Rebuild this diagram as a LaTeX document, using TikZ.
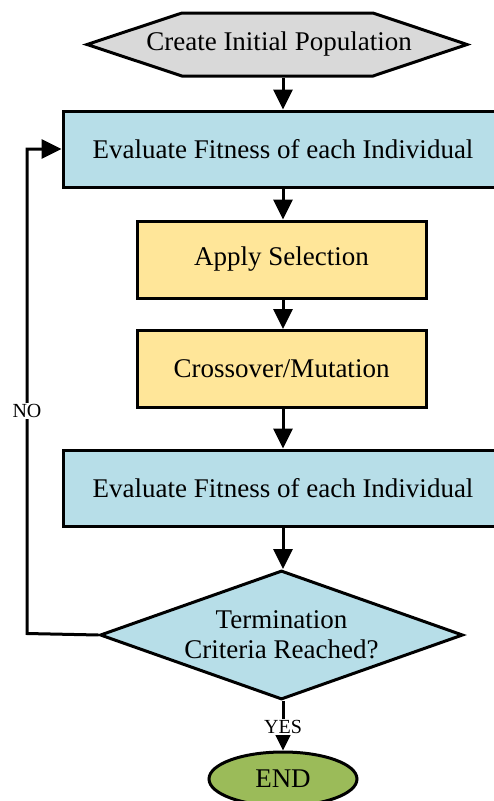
\documentclass[tikz,border=0pt]{standalone}
\usepackage{fontspec}
\setmainfont{Liberation Serif}
\usetikzlibrary{arrows.meta,shapes.geometric,calc}
\definecolor{hexgrey}{HTML}{D9D9D9}
\definecolor{boxblue}{HTML}{B7DEE8}
\definecolor{boxyellow}{HTML}{FFE699}
\definecolor{endgreen}{HTML}{9BBB59}
\begin{document}
\begin{tikzpicture}[x=1pt,y=-1pt, line width=3pt,
  box/.style={draw, rectangle, inner sep=0pt, align=center, font=\fontsize{27}{30}\selectfont},
  bluebox/.style={box, fill=boxblue, minimum width=440, minimum height=76},
  yellowbox/.style={box, fill=boxyellow, minimum width=289, minimum height=77},
  arr/.style={-{Triangle[width=19pt,length=20pt]}, line width=3pt},
  lbl/.style={fill=white, inner sep=1.5pt, font=\fontsize{20}{22}\selectfont}]
\useasboundingbox (0,0) rectangle (493,801);
% hexagon
\filldraw[fill=hexgrey] (87,44.5) -- (182,13) -- (373,13) -- (467,44.5) -- (373,76) -- (182,76) -- cycle;
\node[box, draw=none, minimum width=191, minimum height=63] (init) at (279,44.5) {Create Initial Population};
\node[bluebox] (eval1) at (283,149) {Evaluate Fitness of each Individual};
\node[yellowbox] (sel) at (281.5,259.5) {Apply Selection};
\node[yellowbox] (cross) at (281.5,369) {Crossover/Mutation};
\node[bluebox] (eval2) at (283,488) {Evaluate Fitness of each Individual};
\node[diamond, draw, fill=boxblue, inner sep=0pt, aspect=2.81, minimum width=363, minimum height=129, align=center, font=\fontsize{27}{30}\selectfont] (dec) at (281.5,635) {Termination\\Criteria Reached?};
\node[ellipse, draw, fill=endgreen, inner sep=0pt, minimum width=148, minimum height=54, font=\fontsize{27}{30}\selectfont] (end) at (283,779) {END};
% connectors
\draw[arr] (init.south -| eval1.north) -- (eval1.north);
\draw[arr] (eval1.south) -- (eval1.south |- sel.north);
\draw[arr] (eval1.south |- sel.south) -- (eval1.south |- cross.north);
\draw[arr] (eval1.south |- cross.south) -- (eval2.north);
\draw[arr] (eval2.south) -- (eval2.south |- dec.north);
\draw[arr] (eval2.south |- dec.south) -- (end.north);
\coordinate (noturn) at (27,633.5);
\draw[arr] (dec.west) -- (noturn) |- (eval1.west);
\node[lbl] (no) at (27,411) {NO};
\node[lbl] (yes) at (283,727) {YES};
\end{tikzpicture}
\end{document}
